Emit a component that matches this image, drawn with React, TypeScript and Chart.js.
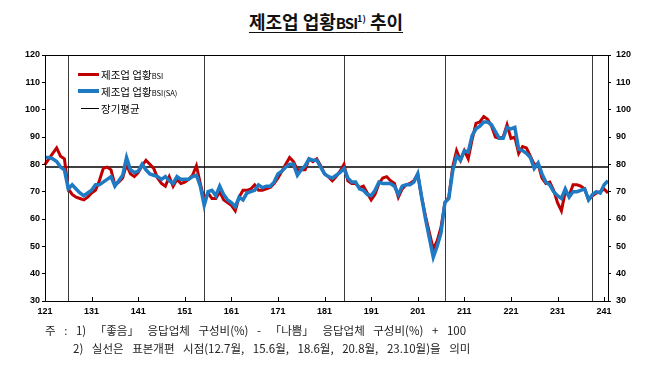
import React, { useEffect, useRef } from 'react';
import { Chart, registerables } from 'chart.js';

Chart.register(...registerables);

// ---- data ----
const START_YEAR = 2012;
const MONTH_COUNT = 146; // 2012.1 ~ 2024.2
const CATEGORIES: string[] = [];
for (let k = 0; k < MONTH_COUNT; k++) {
  const yy = (START_YEAR + Math.floor(k / 12)) % 100;
  const m = (k % 12) + 1;
  CATEGORIES.push(`${yy}.${m}`);
}

const BSI: number[] = [
  80, 82, 84, 86, 83, 82, 71, 69, 68, 67.5, 67, 68,
  69.5, 70.5, 74, 78.5, 79, 78, 72.5, 73.5, 75, 80, 76.5, 75.5,
  77, 79.5, 81.5, 80, 78.5, 75, 73, 72, 75.5, 72, 74.5, 73,
  73.5, 74.5, 76, 79.5, 73, 67, 69.5, 67.5, 67.5, 70, 67, 66,
  65, 63, 68, 70.5, 70.5, 71, 72.5, 70.5, 70.5, 71, 71.5, 73,
  75, 77.5, 80, 82.5, 81, 78, 78, 78, 82, 81, 82, 79.5,
  76.5, 75.5, 74, 75.5, 77.5, 80, 74, 73, 73, 71.5, 72, 69.5,
  67, 69, 73, 75, 75.5, 74, 73, 68, 71, 72.5, 73, 74,
  76.5, 68, 61, 55, 49, 52, 57, 66, 68, 79, 85, 81.5,
  85, 82, 89, 95, 95.5, 97.5, 96.5, 94, 90, 89.5, 90, 94.5,
  89.5, 90, 84, 86.5, 86, 83, 80, 80, 75, 73, 73.5, 70.5,
  66, 63, 70, 68.5, 72.5, 72.5, 72, 71, 67, 68.5, 69.5, 70,
  71, 69.5,
];

const BSI_SA: number[] = [
  82.5, 82.5, 82, 81, 79, 78, 71, 72.5, 71, 69.5, 68.5, 69.5,
  70.5, 72.5, 72.5, 73.5, 74.5, 75.5, 72, 74, 76, 82.5, 78, 77,
  77.5, 80, 78, 76.5, 76, 75.5, 74.5, 75.5, 74, 73, 75.5, 74.5,
  74.5, 74.5, 75.5, 76, 72, 65, 70, 70.5, 68.5, 72, 69, 67,
  66, 64.5, 68, 67, 69.5, 70, 70.5, 72.5, 71.5, 72, 72, 73.5,
  76.5, 77.5, 79, 80, 80, 76, 78, 79.5, 82, 81.5, 81.5, 79,
  76.5, 75.5, 75, 76, 77, 78.5, 75, 73.5, 73.5, 71, 70.5, 69,
  68.5, 70.5, 73.5, 73, 73, 73, 72, 69, 72, 72.5, 72.5, 73.5,
  76.5, 68, 60, 53, 46, 50, 55, 66, 67.5, 77.5, 83, 81.5,
  85, 84.5, 90.5, 93, 94, 95.5, 95.5, 94.5, 92, 89.5, 89.5, 93.5,
  93, 93.5, 85.5, 85, 84, 82.5, 78.5, 80.5, 76.5, 73.5, 72.5, 70,
  68.5, 67.5, 71, 68, 70, 70, 70.5, 71, 67, 69, 70, 69.5,
  72.5, 74,
];

const LONG_TERM_AVG = 79;
const REVISION_POINTS: string[] = ['12.7', '15.6', '18.6', '20.8', '23.10'];
const Y_MIN = 30;
const Y_MAX = 120;
const Y_STEP = 10;

const SERIES_NAMES = ['제조업 업황', '제조업 업황', '장기평균'];

const RED = '#c00000';
const BLUE = '#1f7ac4';

const tickFont = { family: "'Liberation Sans', Arial, sans-serif", size: 9, weight: 'bold' as const };

const overlay = {
  id: 'overlay',
  beforeDatasetsDraw(chart: any) {
    const { ctx, chartArea: a, scales } = chart;
    const xs = scales.x;
    const ys = scales.y;
    ctx.save();
    ctx.strokeStyle = '#3a3a3a';
    ctx.lineWidth = 1;
    REVISION_POINTS.forEach((lab) => {
      const idx = CATEGORIES.indexOf(lab);
      if (idx < 0) return;
      const px = Math.round(xs.getPixelForValue(idx)) + 0.5;
      ctx.beginPath();
      ctx.moveTo(px, a.top);
      ctx.lineTo(px, a.bottom);
      ctx.stroke();
    });
    const py = Math.round(ys.getPixelForValue(LONG_TERM_AVG));
    ctx.strokeStyle = '#000';
    ctx.lineWidth = 1.6;
    ctx.beginPath();
    ctx.moveTo(a.left, py);
    ctx.lineTo(a.right, py);
    ctx.stroke();
    ctx.restore();
  },
  afterDraw(chart: any) {
    const { ctx, chartArea: a, scales } = chart;
    const xs = scales.x;
    ctx.save();
    ctx.strokeStyle = '#000';
    ctx.lineWidth = 1;
    ctx.strokeRect(Math.round(a.left) + 0.5, Math.round(a.top) + 0.5, Math.round(a.right - a.left), Math.round(a.bottom - a.top));
    CATEGORIES.forEach((lab, i) => {
      if (lab.split('.')[1] !== '1') return;
      const px = Math.round(xs.getPixelForValue(i)) + 0.5;
      ctx.beginPath();
      ctx.moveTo(px, a.bottom);
      ctx.lineTo(px, a.bottom - 4);
      ctx.stroke();
    });
    ctx.restore();
  },
};

export default function App() {
  const ref = useRef<HTMLCanvasElement | null>(null);

  useEffect(() => {
    if (!ref.current) return;
    const chart = new Chart(ref.current, {
      type: 'line',
      data: {
        labels: CATEGORIES,
        datasets: [
          {
            label: '제조업 업황BSI',
            data: BSI,
            borderColor: RED,
            backgroundColor: RED,
            borderWidth: 3,
            pointRadius: 0,
            tension: 0,
            order: 2,
          },
          {
            label: '제조업 업황BSI(SA)',
            data: BSI_SA,
            borderColor: BLUE,
            backgroundColor: BLUE,
            borderWidth: 3.5,
            pointRadius: 0,
            tension: 0,
            order: 1,
          },
        ],
      },
      options: {
        animation: false,
        responsive: false,
        maintainAspectRatio: false,
        devicePixelRatio: 1,
        layout: { padding: { left: 25, right: 22, top: 55, bottom: 57 } },
        plugins: { legend: { display: false }, tooltip: { enabled: false }, title: { display: false } },
        scales: {
          x: {
            type: 'category',
            offset: false,
            grid: { display: false, drawTicks: false },
            border: { display: false },
            afterFit: (s: any) => { s.height = 20; },
            ticks: {
              autoSkip: false,
              maxRotation: 0,
              minRotation: 0,
              padding: 5,
              color: '#000',
              font: tickFont,
              callback: (_v: any, i: number) => {
                const lab = CATEGORIES[i];
                const [yy, m] = lab.split('.');
                return m === '1' ? `${yy}${m}` : '';
              },
            },
          },
          y: {
            position: 'left',
            min: Y_MIN,
            max: Y_MAX,
            afterFit: (s: any) => { s.width = 20; },
            grid: { drawOnChartArea: false, drawTicks: true, tickLength: 3, color: '#000' },
            border: { display: false },
            ticks: { stepSize: Y_STEP, padding: 2, color: '#000', font: tickFont },
          },
          y2: {
            position: 'right',
            min: Y_MIN,
            max: Y_MAX,
            afterFit: (s: any) => { s.width = 28; },
            grid: { drawOnChartArea: false, drawTicks: true, tickLength: 3, color: '#000' },
            border: { display: false },
            ticks: { stepSize: Y_STEP, padding: 5, color: '#000', font: tickFont },
          },
        },
      },
      plugins: [overlay],
    });
    return () => chart.destroy();
  }, []);

  const kr = "'Noto Sans CJK KR', 'Noto Sans', sans-serif";
  const legendRow = (top: number, color: string, h: number, w: number, left: number, content: React.ReactNode) => (
    <div style={{ position: 'absolute', left, top: top - 8, height: 16, display: 'flex', alignItems: 'center', fontFamily: kr, fontSize: 10.5, color: '#000', whiteSpace: 'nowrap' }}>
      <span style={{ display: 'inline-block', width: w, height: h, background: color, marginRight: 2 }} />
      <span>{content}</span>
    </div>
  );

  return (
    <div style={{ position: 'fixed', left: 0, top: 0, width: 658, height: 378, background: '#fff', overflow: 'hidden' }}>
      <div style={{ position: 'absolute', left: 0, top: 9, width: 652, textAlign: 'center', fontFamily: kr, lineHeight: '24px' }}>
        <span style={{ fontSize: 18, fontWeight: 700, textDecoration: 'underline', textUnderlineOffset: 3, color: '#111' }}>
          제조업 업황<span style={{ fontSize: 15, letterSpacing: -1 }}>BSI</span>
          <sup style={{ fontSize: 9, verticalAlign: 'top', position: 'relative', top: -2 }}>1)</sup> 추이
        </span>
      </div>
      <canvas ref={ref} width={658} height={378} style={{ position: 'absolute', left: 0, top: 0, width: 658, height: 378 }} />
      {legendRow(74, RED, 3, 21, 78, <>{SERIES_NAMES[0]}<span style={{ fontSize: 7.5 }}>BSI</span></>)}
      {legendRow(91, BLUE, 3.5, 21, 78, <>{SERIES_NAMES[1]}<span style={{ fontSize: 7.5 }}>BSI(SA)</span></>)}
      {legendRow(108, '#000', 1, 18, 81, <>{SERIES_NAMES[2]}</>)}
      <div style={{ position: 'absolute', left: 45, top: 321, fontFamily: kr, fontSize: 11.5, color: '#222', lineHeight: '18px', whiteSpace: 'nowrap', wordSpacing: 6 }}>
        <div>주 : 1) 「좋음」 응답업체 구성비(%) - 「나쁨」 응답업체 구성비(%) + 100</div>
        <div style={{ paddingLeft: 28 }}>2) 실선은 표본개편 시점(12.7월, 15.6월, 18.6월, 20.8월, 23.10월)을 의미</div>
      </div>
    </div>
  );
}
